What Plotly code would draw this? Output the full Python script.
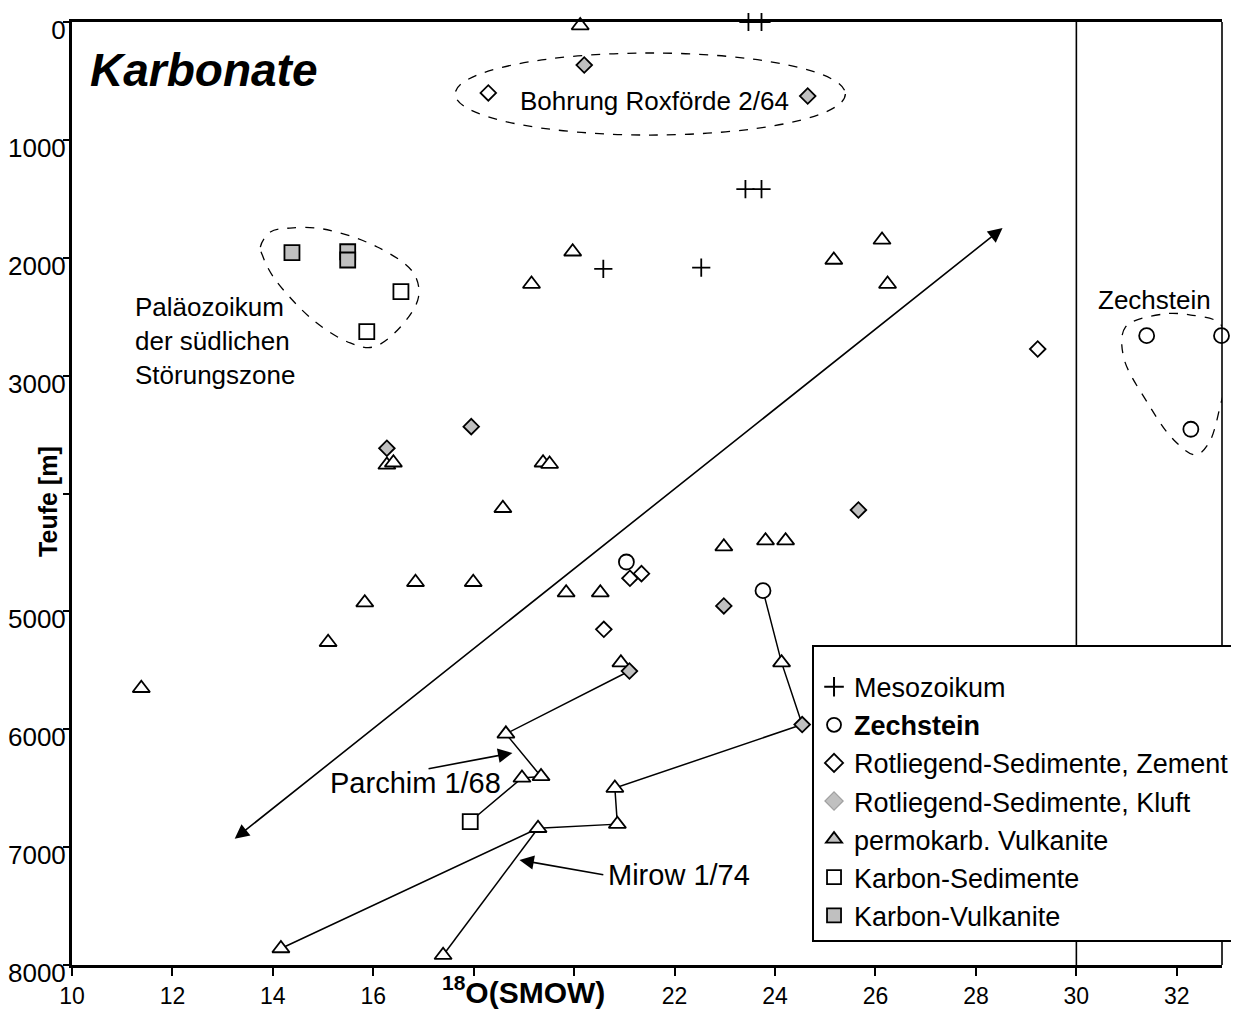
import plotly.graph_objects as go

# ---------------- data (delta 18O SMOW in permil, depth in m) ----------------
meso_x = [23.47, 23.73, 23.41, 23.73, 20.58, 22.53]
meso_y = [0, 0, 1417, 1417, 2095, 2084]

zech_x = [31.40, 32.89, 32.28, 21.04, 23.76]
zech_y = [2661, 2661, 3455, 4581, 4824]

zement_x = [18.29, 29.23, 21.11, 21.34, 20.59]
zement_y = [602, 2774, 4719, 4680, 5152]

kluft_x = [20.20, 24.65, 17.95, 16.27, 25.66, 22.98, 21.10, 24.54]
kluft_y = [365, 628, 3433, 3616, 4140, 4954, 5506, 5960]

vulk_x = [20.12, 19.15, 19.97, 25.17, 26.13, 26.24, 16.27, 16.40, 18.58, 16.84,
          17.99, 15.83, 15.10, 11.38, 19.38, 19.51, 19.84, 20.52, 22.98, 23.81,
          24.21, 20.93, 24.13, 18.64, 19.34, 18.96, 20.81, 20.86, 19.28, 14.16, 17.39]
vulk_y = [30, 2223, 1949, 2019, 1849, 2223, 3758, 3739, 4125, 4753,
          4753, 4926, 5262, 5652, 3739, 3750, 4841, 4841, 4451, 4400,
          4400, 5435, 5435, 6039, 6400, 6413, 6499, 6805, 6840, 7860, 7917]

ksed_x = [16.55, 15.87, 17.93]
ksed_y = [2288, 2627, 6783]

kvulk_x = [14.38, 15.49, 15.49]
kvulk_y = [1957, 1949, 2019]

# well profiles (connecting lines)
parchim_x = [21.10, 18.64, 19.34, 18.96, 17.93]
parchim_y = [5506, 6039, 6400, 6413, 6783]
mirow_x = [23.76, 24.13, 24.54, 20.81, 20.86, 19.28, 14.16]
mirow_y = [4824, 5435, 5960, 6499, 6805, 6840, 7860]
mirow_b_x = [19.28, 17.39]
mirow_b_y = [6840, 7917]

# group outlines (dashed)
palaeo_x = [13.79, 13.75, 13.95, 14.34, 15.00, 16.08, 16.80, 16.90, 16.54, 16.00, 15.54, 14.80, 14.01, 13.79]
palaeo_y = [1977, 1909, 1781, 1748, 1756, 1909, 2129, 2333, 2587, 2757, 2723, 2528, 2163, 1977]
zechb_x = [31.74, 30.98, 30.94, 31.42, 31.94, 32.38, 32.64, 32.88, 33.04, 33.02, 32.82, 32.28, 31.74]
zechb_y = [2477, 2587, 2842, 3232, 3546, 3673, 3571, 3232, 2927, 2698, 2545, 2486, 2477]

legend_names = ["Mesozoikum", "<b>Zechstein</b>", "Rotliegend-Sedimente, Zement",
                "Rotliegend-Sedimente, Kluft", "permokarb. Vulkanite",
                "Karbon-Sedimente", "Karbon-Vulkanite"]

x_ticks = [10, 12, 14, 16, 18, 20, 22, 24, 26, 28, 30, 32]
x_ticktext = ["10", "12", "14", "16", "", "", "22", "24", "26", "28", "30", "32"]
y_ticks = [0, 1000, 2000, 3000, 4000, 5000, 6000, 7000, 8000]
y_ticktext = ["0", "1000", "2000", "3000", "", "5000", "6000", "7000", "8000"]

FONT = "Liberation Sans, Arial, sans-serif"
GREY = "#c0c0c0"

fig = go.Figure()

# connecting lines
for lx, ly in [(parchim_x, parchim_y), (mirow_x, mirow_y), (mirow_b_x, mirow_b_y)]:
    fig.add_trace(go.Scatter(x=lx, y=ly, mode="lines", line=dict(color="black", width=1.5),
                             showlegend=False, hoverinfo="skip"))
# dashed outlines
for lx, ly in [(palaeo_x, palaeo_y), (zechb_x, zechb_y)]:
    fig.add_trace(go.Scatter(x=lx, y=ly, mode="lines",
                             line=dict(color="black", width=1.3, dash="dash", shape="spline", smoothing=1.0),
                             showlegend=False, hoverinfo="skip"))

def pts(x, y, symbol, size, fill, lcol="black", lw=1.8):
    fig.add_trace(go.Scatter(x=x, y=y, mode="markers", cliponaxis=False, showlegend=False,
                             marker=dict(symbol=symbol, size=size, color=fill,
                                         line=dict(color=lcol, width=lw))))

pts(meso_x, meso_y, "cross-thin", 13, "black", lw=1.8)
pts(zech_x, zech_y, "circle", 15, "white")
pts(zement_x, zement_y, "diamond", 12, "white")
pts(vulk_x, vulk_y, "triangle-up", 15, "white")
pts(kluft_x, kluft_y, "diamond", 12, GREY)
pts(ksed_x, ksed_y, "square", 15, "white")
pts(kvulk_x, kvulk_y, "square", 15, GREY)

# legend-only traces
leg_styles = [
    ("cross-thin", "black", "black", 2),
    ("circle", "white", "black", 1.8),
    ("diamond", "white", "black", 1.8),
    ("diamond", GREY, "#a0a0a0", 1.2),
    ("triangle-up", GREY, "black", 1.8),
    ("square", "white", "black", 1.8),
    ("square", GREY, "black", 1.8),
]
for name, (sym, fill, lc, lw) in zip(legend_names, leg_styles):
    fig.add_trace(go.Scatter(x=[None], y=[None], mode="markers", name=name,
                             marker=dict(symbol=sym, size=14, color=fill, line=dict(color=lc, width=lw))))

# arrows
arrow_common = dict(xref="x", yref="y", axref="x", ayref="y", text="", showarrow=True,
                    arrowcolor="black", arrowwidth=1.6, arrowhead=2, arrowsize=1.8)
fig.add_annotation(x=28.53, y=1748, ax=13.21, ay=6939, arrowside="end+start", **arrow_common)
fig.add_annotation(x=18.77, y=6201, ax=17.07, ay=6337, **arrow_common)
fig.add_annotation(x=18.91, y=7109, ax=20.61, ay=7237, **arrow_common)

# texts
fig.add_annotation(x=15.09, y=6456, xref="x", yref="y", text="Parchim 1/68", showarrow=False,
                   xanchor="left", yanchor="middle", font=dict(size=29, family=FONT, color="black"))
fig.add_annotation(x=20.63, y=7237, xref="x", yref="y", text="Mirow 1/74", showarrow=False,
                   xanchor="left", yanchor="middle", font=dict(size=29, family=FONT, color="black"))
fig.add_annotation(x=21.6, y=670, xref="x", yref="y", text="Bohrung Roxförde 2/64", showarrow=False,
                   xanchor="center", yanchor="middle", font=dict(size=26, family=FONT, color="black"))
fig.add_annotation(x=11.22, y=2706, xref="x", yref="y",
                   text="Paläozoikum<br>der südlichen<br>Störungszone", showarrow=False,
                   xanchor="left", yanchor="middle", align="left",
                   font=dict(size=26, family=FONT, color="black"))
fig.add_annotation(x=31.56, y=2358, xref="x", yref="y", text="Zechstein", showarrow=False,
                   xanchor="center", yanchor="middle", font=dict(size=26, family=FONT, color="black"))
fig.add_annotation(x=0.014, y=0.949, xref="paper", yref="paper", text="<b><i>Karbonate</i></b>",
                   showarrow=False, xanchor="left", yanchor="middle",
                   font=dict(size=46, family=FONT, color="black"))
fig.add_annotation(x=18.99, y=-0.027, xref="x", yref="paper", text="<b><sup>18</sup>O(SMOW)</b>",
                   showarrow=False, xanchor="center", yanchor="middle",
                   font=dict(size=30, family=FONT, color="black"))
fig.add_annotation(x=-0.021, y=0.492, xref="paper", yref="paper", text="<b>Teufe [m]</b>",
                   textangle=-90, showarrow=False, xanchor="center", yanchor="middle",
                   font=dict(size=25, family=FONT, color="black"))

# shapes
fig.add_shape(type="circle", xref="x", yref="y", x0=17.63, x1=25.40, y0=263, y1=959,
              line=dict(color="black", width=1.3, dash="dash"))
fig.add_shape(type="line", xref="x", yref="paper", x0=30, x1=30, y0=0, y1=1,
              line=dict(color="black", width=1.6))
fig.add_shape(type="line", xref="paper", yref="paper", x0=1, x1=1, y0=0, y1=1,
              line=dict(color="black", width=1.6))

fig.update_layout(
    width=1239, height=1012,
    margin=dict(l=64, r=25, t=14, b=55, autoexpand=False),
    plot_bgcolor="white", paper_bgcolor="white",
    font=dict(family=FONT, color="black"),
    legend=dict(x=0.6435, y=0.3393, xanchor="left", yanchor="top",
                bgcolor="white", bordercolor="black", borderwidth=2,
                font=dict(size=27, family=FONT, color="black"),
                title=dict(text=" ", font=dict(size=12)),
                itemwidth=30, tracegroupgap=0),
    xaxis=dict(range=[10, 32.9], tickvals=x_ticks, ticktext=x_ticktext, automargin=False,
               showgrid=False, zeroline=False, showline=True, linecolor="black", linewidth=3,
               mirror=True, ticks="outside", ticklen=8, tickwidth=1.5, tickcolor="black",
               tickfont=dict(size=23, family=FONT, color="black")),
    yaxis=dict(range=[8000, 0], tickvals=y_ticks, ticktext=y_ticktext, automargin=False,
               showgrid=False, zeroline=False, showline=True, linecolor="black", linewidth=3,
               ticks="outside", ticklen=6, tickwidth=1.5, tickcolor="black",
               ticklabelshift=-8, ticklabelstandoff=-8,
               tickfont=dict(size=26, family=FONT, color="black")),
)

fig.write_html("out.html")
